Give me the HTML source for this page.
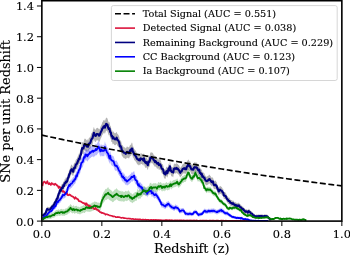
<!DOCTYPE html>
<html><head><meta charset="utf-8"><title>plot</title>
<style>
html,body{margin:0;padding:0;background:#fff;width:350px;height:255px;overflow:hidden}
svg text{font-family:"DejaVu Serif","Liberation Serif",serif;fill:#000;stroke:#000;stroke-width:0.12px;stroke-linejoin:round}
.t{font-size:11.4px}
.l{font-size:12.9px}
.g{font-size:9.69px}
</style></head><body>
<svg width="350" height="255" viewBox="0 0 350 255" style="display:block;position:absolute;left:0;top:0">
<rect width="350" height="255" fill="#fff"/>
<defs><clipPath id="c"><rect x="41.85" y="0.70" width="300.00" height="220.40"/></clipPath></defs>
<g clip-path="url(#c)" fill="none" stroke-linejoin="round">
<path d="M42.5 214.5 L43.2 213.3 L43.8 212.8 L44.5 212.5 L45.1 211.8 L45.8 210.7 L46.4 208.5 L47.1 206.5 L47.7 207.0 L48.4 207.0 L49.0 207.3 L49.7 207.1 L50.3 206.7 L51.0 205.6 L51.6 204.9 L52.3 203.7 L52.9 203.7 L53.6 202.5 L54.2 201.7 L54.9 199.4 L55.5 199.6 L56.2 197.4 L56.8 195.5 L57.5 195.2 L58.1 192.5 L58.8 190.0 L59.4 189.0 L60.1 186.3 L60.7 187.1 L61.4 184.9 L62.0 183.8 L62.7 184.1 L63.3 181.3 L64.0 181.9 L64.6 179.2 L65.3 179.0 L65.9 177.2 L66.6 177.8 L67.2 176.7 L67.9 173.8 L68.5 172.8 L69.2 170.0 L69.8 169.1 L70.5 166.7 L71.1 165.1 L71.8 164.4 L72.4 165.8 L73.1 166.9 L73.7 164.3 L74.4 162.6 L75.0 162.9 L75.7 160.0 L76.3 159.2 L77.0 158.5 L77.6 156.8 L78.3 155.4 L78.9 153.4 L79.6 153.6 L80.2 150.3 L80.9 149.1 L81.5 145.6 L82.2 142.3 L82.8 142.3 L83.5 142.7 L84.1 139.7 L84.8 138.5 L85.4 138.8 L86.1 139.6 L86.7 140.6 L87.4 139.1 L88.0 141.1 L88.7 138.4 L89.3 137.4 L90.0 137.4 L90.6 136.2 L91.3 133.4 L91.9 132.8 L92.6 131.8 L93.2 129.2 L93.9 126.7 L94.5 128.9 L95.2 129.6 L95.8 129.7 L96.5 128.0 L97.1 128.0 L97.8 127.8 L98.4 128.5 L99.1 129.5 L99.7 129.1 L100.4 126.9 L101.0 125.4 L101.7 124.2 L102.3 122.2 L103.0 121.5 L103.6 120.1 L104.3 119.8 L104.9 121.3 L105.6 119.0 L106.2 117.4 L106.9 117.9 L107.5 118.4 L108.2 121.3 L108.8 122.7 L109.5 122.1 L110.1 125.6 L110.8 126.2 L111.4 129.8 L112.1 129.8 L112.7 132.5 L113.4 131.2 L114.0 132.4 L114.7 133.2 L115.3 133.3 L116.0 132.8 L116.6 131.7 L117.3 133.8 L117.9 134.3 L118.6 135.2 L119.2 136.7 L119.9 140.7 L120.5 140.3 L121.2 141.5 L121.8 144.6 L122.5 145.2 L123.1 146.1 L123.8 147.2 L124.4 147.3 L125.1 147.5 L125.7 148.4 L126.4 147.4 L127.0 146.3 L127.7 146.9 L128.3 147.0 L129.0 147.8 L129.6 146.1 L130.3 144.4 L130.9 145.2 L131.6 142.8 L132.2 142.8 L132.9 146.4 L133.5 146.7 L134.2 149.2 L134.8 149.6 L135.5 150.4 L136.1 151.4 L136.8 153.0 L137.4 153.9 L138.1 154.1 L138.7 155.0 L139.4 154.1 L140.0 155.2 L140.7 153.1 L141.3 153.5 L142.0 153.6 L142.6 154.3 L143.3 155.3 L143.9 153.0 L144.6 155.9 L145.2 157.3 L145.9 157.9 L146.5 157.0 L147.2 158.6 L147.8 160.2 L148.5 156.6 L149.1 156.6 L149.8 155.5 L150.4 152.2 L151.1 153.0 L151.7 151.9 L152.4 152.7 L153.0 153.3 L153.7 154.9 L154.3 155.3 L155.0 156.9 L155.6 156.0 L156.3 157.0 L156.9 158.3 L157.6 158.6 L158.2 157.7 L158.9 160.1 L159.5 159.5 L160.2 159.4 L160.8 160.7 L161.5 163.0 L162.1 164.1 L162.8 164.3 L163.4 166.1 L164.1 168.9 L164.7 169.2 L165.4 169.9 L166.0 167.5 L166.7 166.4 L167.3 168.5 L168.0 166.2 L168.6 163.5 L169.3 165.6 L169.9 161.3 L170.6 164.5 L171.2 166.4 L171.9 167.2 L172.5 167.1 L173.2 167.8 L173.8 164.2 L174.5 163.5 L175.1 163.7 L175.8 163.9 L176.4 163.0 L177.1 164.1 L177.7 163.8 L178.4 165.0 L179.0 165.3 L179.7 166.9 L180.3 168.2 L181.0 166.8 L181.6 166.6 L182.3 164.7 L182.9 163.9 L183.6 163.7 L184.2 163.3 L184.9 164.3 L185.5 163.7 L186.2 164.4 L186.8 161.8 L187.5 160.8 L188.1 159.6 L188.8 160.1 L189.4 161.4 L190.1 161.2 L190.7 162.8 L191.4 164.5 L192.0 164.5 L192.7 164.8 L193.3 164.8 L194.0 162.7 L194.6 162.3 L195.3 162.4 L195.9 162.7 L196.6 162.4 L197.2 163.3 L197.9 165.0 L198.5 165.7 L199.2 164.9 L199.8 168.2 L200.5 168.2 L201.1 169.8 L201.8 169.3 L202.4 172.2 L203.1 171.8 L203.7 173.2 L204.4 173.2 L205.0 175.2 L205.7 176.1 L206.3 176.7 L207.0 176.8 L207.6 176.0 L208.3 176.0 L208.9 174.8 L209.6 174.8 L210.2 175.8 L210.9 176.6 L211.5 177.6 L212.2 178.0 L212.8 177.1 L213.5 179.6 L214.1 181.1 L214.8 180.8 L215.4 180.6 L216.1 181.4 L216.7 182.2 L217.4 184.4 L218.0 185.7 L218.7 187.8 L219.3 186.9 L220.0 185.8 L220.6 186.3 L221.3 186.8 L221.9 187.2 L222.6 188.7 L223.2 188.9 L223.9 192.0 L224.5 192.2 L225.2 192.2 L225.8 193.1 L226.5 194.6 L227.1 195.9 L227.8 196.3 L228.4 197.7 L229.1 197.6 L229.7 198.2 L230.4 199.8 L231.0 199.9 L231.7 200.0 L232.3 201.0 L233.0 200.2 L233.6 200.9 L234.3 201.9 L234.9 202.6 L235.6 202.1 L236.2 203.2 L236.9 202.5 L237.5 203.2 L238.2 203.0 L238.8 202.5 L239.5 203.6 L240.1 204.4 L240.8 204.6 L241.4 205.4 L242.1 206.7 L242.7 206.3 L243.4 206.9 L244.0 208.0 L244.7 208.5 L245.3 209.6 L246.0 209.4 L246.6 209.2 L247.3 209.5 L247.9 210.5 L248.6 208.8 L249.2 209.1 L249.9 209.9 L250.5 210.7 L251.2 211.3 L251.8 211.6 L252.5 212.3 L253.1 213.6 L253.8 214.0 L254.4 213.8 L255.1 214.8 L255.7 214.9 L256.4 214.6 L257.0 214.6 L257.7 214.7 L258.3 214.5 L259.0 214.3 L259.6 214.7 L260.3 214.3 L260.9 214.8 L261.6 214.3 L262.2 214.6 L262.9 214.6 L263.5 215.1 L264.2 214.4 L264.8 214.3 L265.5 214.5 L266.1 214.4 L266.8 214.5 L267.4 214.8 L268.1 215.8 L268.7 216.8 L269.4 217.0 L270.0 218.2 L270.7 218.1 L271.3 217.7 L271.3 220.2 L270.7 220.4 L270.0 220.4 L269.4 219.7 L268.7 219.6 L268.1 218.8 L267.4 218.1 L266.8 217.9 L266.1 217.8 L265.5 217.9 L264.8 217.7 L264.2 217.8 L263.5 218.4 L262.9 218.0 L262.2 218.0 L261.6 217.7 L260.9 218.1 L260.3 217.7 L259.6 218.1 L259.0 217.7 L258.3 217.9 L257.7 218.1 L257.0 218.0 L256.4 218.0 L255.7 218.2 L255.1 218.1 L254.4 217.4 L253.8 217.5 L253.1 217.2 L252.5 216.2 L251.8 215.7 L251.2 215.4 L250.5 214.9 L249.9 214.3 L249.2 213.6 L248.6 213.4 L247.9 214.7 L247.3 213.9 L246.6 213.7 L246.0 213.8 L245.3 214.0 L244.7 213.1 L244.0 212.7 L243.4 211.8 L242.7 211.3 L242.1 211.6 L241.4 210.5 L240.8 209.9 L240.1 209.7 L239.5 209.1 L238.8 208.1 L238.2 208.5 L237.5 208.7 L236.9 208.1 L236.2 208.7 L235.6 207.8 L234.9 208.2 L234.3 207.6 L233.6 206.7 L233.0 206.2 L232.3 206.8 L231.7 206.0 L231.0 205.9 L230.4 205.8 L229.7 204.4 L229.1 203.9 L228.4 203.9 L227.8 202.8 L227.1 202.4 L226.5 201.3 L225.8 199.9 L225.2 199.1 L224.5 199.1 L223.9 199.0 L223.2 196.2 L222.6 196.0 L221.9 194.7 L221.3 194.3 L220.6 193.9 L220.0 193.5 L219.3 194.5 L218.7 195.3 L218.0 193.4 L217.4 192.2 L216.7 190.2 L216.1 189.5 L215.4 188.8 L214.8 189.0 L214.1 189.3 L213.5 187.9 L212.8 185.6 L212.2 186.4 L211.5 186.1 L210.9 185.2 L210.2 184.5 L209.6 183.5 L208.9 183.5 L208.3 184.6 L207.6 184.7 L207.0 185.3 L206.3 185.2 L205.7 184.8 L205.0 183.9 L204.4 182.1 L203.7 182.1 L203.1 180.8 L202.4 181.2 L201.8 178.5 L201.1 179.0 L200.5 177.5 L199.8 177.5 L199.2 174.5 L198.5 175.2 L197.9 174.6 L197.2 173.1 L196.6 172.3 L195.9 172.5 L195.3 172.2 L194.6 172.1 L194.0 172.5 L193.3 174.4 L192.7 174.5 L192.0 174.1 L191.4 174.1 L190.7 172.6 L190.1 171.1 L189.4 171.3 L188.8 170.2 L188.1 169.6 L187.5 170.8 L186.8 171.7 L186.2 174.0 L185.5 173.5 L184.9 174.0 L184.2 173.1 L183.6 173.4 L182.9 173.6 L182.3 174.4 L181.6 176.1 L181.0 176.2 L180.3 177.5 L179.7 176.4 L179.0 174.9 L178.4 174.6 L177.7 173.5 L177.1 173.8 L176.4 172.8 L175.8 173.6 L175.1 173.4 L174.5 173.3 L173.8 173.9 L173.2 177.2 L172.5 176.5 L171.9 176.6 L171.2 175.9 L170.6 174.1 L169.9 171.2 L169.3 175.2 L168.6 173.2 L168.0 175.7 L167.3 177.8 L166.7 175.9 L166.0 176.9 L165.4 179.1 L164.7 178.4 L164.1 178.2 L163.4 175.6 L162.8 174.0 L162.1 173.8 L161.5 172.8 L160.8 170.6 L160.2 169.5 L159.5 169.6 L158.9 170.1 L158.2 167.9 L157.6 168.8 L156.9 168.5 L156.3 167.3 L155.6 166.3 L155.0 167.2 L154.3 165.7 L153.7 165.3 L153.0 163.9 L152.4 163.3 L151.7 162.5 L151.1 163.6 L150.4 162.8 L149.8 165.9 L149.1 166.9 L148.5 166.9 L147.8 170.2 L147.2 168.8 L146.5 167.2 L145.9 168.1 L145.2 167.5 L144.6 166.2 L143.9 163.6 L143.3 165.7 L142.6 164.8 L142.0 164.1 L141.3 164.1 L140.7 163.7 L140.0 165.6 L139.4 164.6 L138.7 165.4 L138.1 164.6 L137.4 164.4 L136.8 163.6 L136.1 162.1 L135.5 161.2 L134.8 160.4 L134.2 160.0 L133.5 157.8 L132.9 157.5 L132.2 154.2 L131.6 154.2 L130.9 156.4 L130.3 155.6 L129.6 157.2 L129.0 158.8 L128.3 158.0 L127.7 157.9 L127.0 157.4 L126.4 158.4 L125.7 159.3 L125.1 158.5 L124.4 158.3 L123.8 158.2 L123.1 157.2 L122.5 156.4 L121.8 155.8 L121.2 153.0 L120.5 151.8 L119.9 152.2 L119.2 148.4 L118.6 147.1 L117.9 146.2 L117.3 145.7 L116.6 143.8 L116.0 144.8 L115.3 145.2 L114.7 145.2 L114.0 144.4 L113.4 143.4 L112.7 144.5 L112.1 142.0 L111.4 142.0 L110.8 138.7 L110.1 138.1 L109.5 134.8 L108.8 135.4 L108.2 134.0 L107.5 131.4 L106.9 130.9 L106.2 130.4 L105.6 131.9 L104.9 134.1 L104.3 132.6 L103.6 132.9 L103.0 134.2 L102.3 134.9 L101.7 136.8 L101.0 137.9 L100.4 139.3 L99.7 141.4 L99.1 141.8 L98.4 140.8 L97.8 140.2 L97.1 140.4 L96.5 140.3 L95.8 142.0 L95.2 141.8 L94.5 141.2 L93.9 139.1 L93.2 141.4 L92.6 143.9 L91.9 144.8 L91.3 145.4 L90.6 148.0 L90.0 149.1 L89.3 149.1 L88.7 150.0 L88.0 152.5 L87.4 150.7 L86.7 152.1 L86.1 151.2 L85.4 150.4 L84.8 150.1 L84.1 151.2 L83.5 154.1 L82.8 153.7 L82.2 153.7 L81.5 156.7 L80.9 160.0 L80.2 161.1 L79.6 164.1 L78.9 164.0 L78.3 165.8 L77.6 167.1 L77.0 168.7 L76.3 169.3 L75.7 170.0 L75.0 172.7 L74.4 172.4 L73.7 174.0 L73.1 176.4 L72.4 175.3 L71.8 174.0 L71.1 174.7 L70.5 176.1 L69.8 178.3 L69.2 179.2 L68.5 181.7 L67.9 182.6 L67.2 185.2 L66.6 186.3 L65.9 185.8 L65.3 187.3 L64.6 187.5 L64.0 190.0 L63.3 189.5 L62.7 191.9 L62.0 191.7 L61.4 192.7 L60.7 194.6 L60.1 193.9 L59.4 196.3 L58.8 197.2 L58.1 199.4 L57.5 201.8 L56.8 202.1 L56.2 203.7 L55.5 205.6 L54.9 205.4 L54.2 207.4 L53.6 208.1 L52.9 209.1 L52.3 209.1 L51.6 210.2 L51.0 210.8 L50.3 211.6 L49.7 212.0 L49.0 212.1 L48.4 211.9 L47.7 211.9 L47.1 211.5 L46.4 213.1 L45.8 214.9 L45.1 215.8 L44.5 216.4 L43.8 216.6 L43.2 216.9 L42.5 217.9Z" fill="#808080" fill-opacity="0.6"/>
<path d="M42.5 216.4 L43.2 216.3 L43.8 215.7 L44.5 214.7 L45.1 215.1 L45.8 214.7 L46.4 213.7 L47.1 212.9 L47.7 211.9 L48.4 210.7 L49.0 210.4 L49.7 209.6 L50.3 209.1 L51.0 208.9 L51.6 208.6 L52.3 207.3 L52.9 205.7 L53.6 205.9 L54.2 204.0 L54.9 203.8 L55.5 203.6 L56.2 201.6 L56.8 199.9 L57.5 198.6 L58.1 199.0 L58.8 197.5 L59.4 196.9 L60.1 196.5 L60.7 195.2 L61.4 194.4 L62.0 193.4 L62.7 191.4 L63.3 191.6 L64.0 191.8 L64.6 191.0 L65.3 190.6 L65.9 189.3 L66.6 188.6 L67.2 187.1 L67.9 183.6 L68.5 182.7 L69.2 180.9 L69.8 181.7 L70.5 180.2 L71.1 179.6 L71.8 179.4 L72.4 178.4 L73.1 176.9 L73.7 177.2 L74.4 175.2 L75.0 175.1 L75.7 173.6 L76.3 170.9 L77.0 171.7 L77.6 168.4 L78.3 167.8 L78.9 165.3 L79.6 164.7 L80.2 163.3 L80.9 159.8 L81.5 157.5 L82.2 157.2 L82.8 156.7 L83.5 153.8 L84.1 151.6 L84.8 152.3 L85.4 148.9 L86.1 150.1 L86.7 149.1 L87.4 151.0 L88.0 149.9 L88.7 148.5 L89.3 148.4 L90.0 146.7 L90.6 147.3 L91.3 146.0 L91.9 145.8 L92.6 145.2 L93.2 146.4 L93.9 145.1 L94.5 145.3 L95.2 144.9 L95.8 143.4 L96.5 144.4 L97.1 143.3 L97.8 142.2 L98.4 140.8 L99.1 141.7 L99.7 143.9 L100.4 145.9 L101.0 143.6 L101.7 145.3 L102.3 144.7 L103.0 145.4 L103.6 144.8 L104.3 145.0 L104.9 141.3 L105.6 144.0 L106.2 144.6 L106.9 146.7 L107.5 147.4 L108.2 148.5 L108.8 150.9 L109.5 153.3 L110.1 150.2 L110.8 153.5 L111.4 154.9 L112.1 155.3 L112.7 155.9 L113.4 156.0 L114.0 157.4 L114.7 159.8 L115.3 160.9 L116.0 160.7 L116.6 160.6 L117.3 162.1 L117.9 163.1 L118.6 165.1 L119.2 166.1 L119.9 166.8 L120.5 168.8 L121.2 169.1 L121.8 171.6 L122.5 172.8 L123.1 172.0 L123.8 173.9 L124.4 173.5 L125.1 175.8 L125.7 176.1 L126.4 175.8 L127.0 177.2 L127.7 176.5 L128.3 176.1 L129.0 175.5 L129.6 175.1 L130.3 174.3 L130.9 173.8 L131.6 172.2 L132.2 172.6 L132.9 172.5 L133.5 171.5 L134.2 171.1 L134.8 173.9 L135.5 175.6 L136.1 176.0 L136.8 176.6 L137.4 179.0 L138.1 181.3 L138.7 179.9 L139.4 182.5 L140.0 182.3 L140.7 182.4 L141.3 183.9 L142.0 183.5 L142.6 185.6 L143.3 187.2 L143.9 187.1 L144.6 187.2 L145.2 187.3 L145.9 188.2 L146.5 188.2 L147.2 190.3 L147.8 188.8 L148.5 188.0 L149.1 187.5 L149.8 187.3 L150.4 187.4 L151.1 187.1 L151.7 189.6 L152.4 188.8 L153.0 189.5 L153.7 190.6 L154.3 191.6 L155.0 191.6 L155.6 190.5 L156.3 191.6 L156.9 192.2 L157.6 193.5 L158.2 194.4 L158.9 195.8 L159.5 196.7 L160.2 198.5 L160.8 199.2 L161.5 201.7 L162.1 201.8 L162.8 201.9 L163.4 202.5 L164.1 202.8 L164.7 203.3 L165.4 203.9 L166.0 202.4 L166.7 201.7 L167.3 202.0 L168.0 200.7 L168.6 200.9 L169.3 202.1 L169.9 202.6 L170.6 203.8 L171.2 203.7 L171.9 204.8 L172.5 204.9 L173.2 205.1 L173.8 205.9 L174.5 205.9 L175.1 204.5 L175.8 204.5 L176.4 205.1 L177.1 205.4 L177.7 205.4 L178.4 206.4 L179.0 206.9 L179.7 209.3 L180.3 208.6 L181.0 208.6 L181.6 208.2 L182.3 208.1 L182.9 207.9 L183.6 208.0 L184.2 209.4 L184.9 210.3 L185.5 211.7 L186.2 211.6 L186.8 211.7 L187.5 212.1 L188.1 212.3 L188.8 211.9 L189.4 211.6 L190.1 211.8 L190.7 211.6 L191.4 212.4 L192.0 212.0 L192.7 212.0 L193.3 211.7 L194.0 210.0 L194.6 209.9 L195.3 209.8 L195.9 209.7 L196.6 210.2 L197.2 211.6 L197.9 212.1 L198.5 213.1 L199.2 212.8 L199.8 212.4 L200.5 212.5 L201.1 212.1 L201.8 212.2 L202.4 211.1 L203.1 210.6 L203.7 209.5 L204.4 208.8 L205.0 208.4 L205.7 209.5 L206.3 209.3 L207.0 209.7 L207.6 209.3 L208.3 208.4 L208.9 209.0 L209.6 208.7 L210.2 209.2 L210.9 208.4 L211.5 208.8 L212.2 208.3 L212.8 208.9 L213.5 208.3 L214.1 208.4 L214.8 209.1 L215.4 209.3 L216.1 209.5 L216.7 210.0 L217.4 210.0 L218.0 209.0 L218.7 209.2 L219.3 208.9 L220.0 208.1 L220.6 208.4 L221.3 207.6 L221.9 208.9 L222.6 208.6 L223.2 209.1 L223.9 210.1 L224.5 210.3 L225.2 211.3 L225.8 211.0 L226.5 211.4 L227.1 211.1 L227.8 211.5 L228.4 212.4 L229.1 212.7 L229.7 213.6 L230.4 213.8 L231.0 214.3 L231.7 214.9 L232.3 215.3 L233.0 215.4 L233.6 215.5 L234.3 215.9 L234.9 215.9 L235.6 216.2 L236.2 216.7 L236.9 216.3 L237.5 216.4 L238.2 216.8 L238.8 216.5 L239.5 216.8 L240.1 216.6 L240.8 217.4 L241.4 216.6 L242.1 217.1 L242.7 217.3 L243.4 218.0 L244.0 217.9 L244.7 217.9 L245.3 217.8 L246.0 218.3 L246.6 218.4 L247.3 218.4 L247.9 218.4 L248.6 218.7 L249.2 219.3 L249.9 219.7 L250.5 219.8 L251.2 219.8 L251.8 219.8 L252.5 220.0 L253.1 220.0 L253.8 220.1 L254.4 220.1 L255.1 220.0 L255.7 220.0 L256.4 220.2 L257.0 220.2 L257.7 220.1 L258.3 219.9 L259.0 220.2 L259.6 220.3 L260.3 220.3 L260.9 220.2 L261.6 220.2 L262.2 220.2 L262.9 220.4 L263.5 220.2 L264.2 220.3 L264.8 220.3 L265.5 220.4 L266.1 220.3 L266.8 220.4 L267.4 220.4 L268.1 220.4 L268.1 221.0 L267.4 221.0 L266.8 221.0 L266.1 221.0 L265.5 221.0 L264.8 221.0 L264.2 221.0 L263.5 221.0 L262.9 221.0 L262.2 221.0 L261.6 221.0 L260.9 221.0 L260.3 221.0 L259.6 221.0 L259.0 221.0 L258.3 221.0 L257.7 221.0 L257.0 221.0 L256.4 221.0 L255.7 221.0 L255.1 221.0 L254.4 221.0 L253.8 221.0 L253.1 221.0 L252.5 221.0 L251.8 221.0 L251.2 221.0 L250.5 221.0 L249.9 221.0 L249.2 221.0 L248.6 220.8 L247.9 220.6 L247.3 220.6 L246.6 220.6 L246.0 220.5 L245.3 220.2 L244.7 220.3 L244.0 220.3 L243.4 220.4 L242.7 219.9 L242.1 219.7 L241.4 219.4 L240.8 219.9 L240.1 219.4 L239.5 219.5 L238.8 219.3 L238.2 219.5 L237.5 219.3 L236.9 219.2 L236.2 219.5 L235.6 219.1 L234.9 218.9 L234.3 218.9 L233.6 218.6 L233.0 218.5 L232.3 218.5 L231.7 218.2 L231.0 217.8 L230.4 217.3 L229.7 217.2 L229.1 216.5 L228.4 216.3 L227.8 215.6 L227.1 215.2 L226.5 215.4 L225.8 215.1 L225.2 215.4 L224.5 214.6 L223.9 214.4 L223.2 213.7 L222.6 213.2 L221.9 213.5 L221.3 212.4 L220.6 213.1 L220.0 212.8 L219.3 213.5 L218.7 213.7 L218.0 213.5 L217.4 214.4 L216.7 214.4 L216.1 214.0 L215.4 213.8 L214.8 213.6 L214.1 213.1 L213.5 213.0 L212.8 213.5 L212.2 212.9 L211.5 213.4 L210.9 213.1 L210.2 213.7 L209.6 213.3 L208.9 213.6 L208.3 213.1 L207.6 213.8 L207.0 214.1 L206.3 213.8 L205.7 214.0 L205.0 213.1 L204.4 213.3 L203.7 213.9 L203.1 214.8 L202.4 215.3 L201.8 216.1 L201.1 216.0 L200.5 216.3 L199.8 216.2 L199.2 216.6 L198.5 216.9 L197.9 216.0 L197.2 215.7 L196.6 214.5 L195.9 214.1 L195.3 214.2 L194.6 214.3 L194.0 214.4 L193.3 215.7 L192.7 216.0 L192.0 215.9 L191.4 216.3 L190.7 215.7 L190.1 215.8 L189.4 215.7 L188.8 215.9 L188.1 216.2 L187.5 216.0 L186.8 215.7 L186.2 215.6 L185.5 215.8 L184.9 214.6 L184.2 213.9 L183.6 212.7 L182.9 212.7 L182.3 212.8 L181.6 212.9 L181.0 213.2 L180.3 213.2 L179.7 213.8 L179.0 211.8 L178.4 211.4 L177.7 210.6 L177.1 210.6 L176.4 210.3 L175.8 209.8 L175.1 209.8 L174.5 211.0 L173.8 211.0 L173.2 210.3 L172.5 210.1 L171.9 210.1 L171.2 209.1 L170.6 209.2 L169.9 208.2 L169.3 207.7 L168.6 206.7 L168.0 206.6 L167.3 207.7 L166.7 207.4 L166.0 208.0 L165.4 209.3 L164.7 208.8 L164.1 208.4 L163.4 208.1 L162.8 207.6 L162.1 207.5 L161.5 207.4 L160.8 205.3 L160.2 204.7 L159.5 203.1 L158.9 202.3 L158.2 201.1 L157.6 200.3 L156.9 199.2 L156.3 198.6 L155.6 197.7 L155.0 198.6 L154.3 198.6 L153.7 197.7 L153.0 196.8 L152.4 196.2 L151.7 196.9 L151.1 194.6 L150.4 194.9 L149.8 194.8 L149.1 195.0 L148.5 195.4 L147.8 196.1 L147.2 197.5 L146.5 195.6 L145.9 195.6 L145.2 194.8 L144.6 194.7 L143.9 194.6 L143.3 194.7 L142.6 193.3 L142.0 191.4 L141.3 191.8 L140.7 190.4 L140.0 190.4 L139.4 190.5 L138.7 188.2 L138.1 189.4 L137.4 187.4 L136.8 185.1 L136.1 184.6 L135.5 184.3 L134.8 182.8 L134.2 180.2 L133.5 180.6 L132.9 181.5 L132.2 181.6 L131.6 181.2 L130.9 182.6 L130.3 183.1 L129.6 183.8 L129.0 184.2 L128.3 184.7 L127.7 185.0 L127.0 185.7 L126.4 184.5 L125.7 184.8 L125.1 184.4 L124.4 182.4 L123.8 182.7 L123.1 181.0 L122.5 181.8 L121.8 180.6 L121.2 178.4 L120.5 178.1 L119.9 176.3 L119.2 175.6 L118.6 174.7 L117.9 172.8 L117.3 171.9 L116.6 170.6 L116.0 170.7 L115.3 170.8 L114.7 169.9 L114.0 167.6 L113.4 166.3 L112.7 166.2 L112.1 165.7 L111.4 165.3 L110.8 164.0 L110.1 161.0 L109.5 163.9 L108.8 161.6 L108.2 159.4 L107.5 158.4 L106.9 157.8 L106.2 155.8 L105.6 155.3 L104.9 152.7 L104.3 156.2 L103.6 156.0 L103.0 156.6 L102.3 155.9 L101.7 156.4 L101.0 154.9 L100.4 157.0 L99.7 155.1 L99.1 153.1 L98.4 152.3 L97.8 153.6 L97.1 154.6 L96.5 155.6 L95.8 154.7 L95.2 156.1 L94.5 156.5 L93.9 156.2 L93.2 157.4 L92.6 156.3 L91.9 156.9 L91.3 157.1 L90.6 158.3 L90.0 157.7 L89.3 159.3 L88.7 159.4 L88.0 160.7 L87.4 161.7 L86.7 160.0 L86.1 160.9 L85.4 159.8 L84.8 162.9 L84.1 162.3 L83.5 164.3 L82.8 167.0 L82.2 167.4 L81.5 167.7 L80.9 169.9 L80.2 173.1 L79.6 174.4 L78.9 174.8 L78.3 177.2 L77.6 177.8 L77.0 180.7 L76.3 180.0 L75.7 182.4 L75.0 183.9 L74.4 183.9 L73.7 185.7 L73.1 185.4 L72.4 186.8 L71.8 187.7 L71.1 187.9 L70.5 188.4 L69.8 189.8 L69.2 189.0 L68.5 190.7 L67.9 191.5 L67.2 194.6 L66.6 195.9 L65.9 196.6 L65.3 197.7 L64.6 198.1 L64.0 198.8 L63.3 198.6 L62.7 198.5 L62.0 200.2 L61.4 201.1 L60.7 201.8 L60.1 202.9 L59.4 203.3 L58.8 203.8 L58.1 205.1 L57.5 204.8 L56.8 205.9 L56.2 207.4 L55.5 209.1 L54.9 209.2 L54.2 209.4 L53.6 211.0 L52.9 210.8 L52.3 212.2 L51.6 213.2 L51.0 213.5 L50.3 213.6 L49.7 214.1 L49.0 214.7 L48.4 214.9 L47.7 215.9 L47.1 216.7 L46.4 217.3 L45.8 218.1 L45.1 218.3 L44.5 218.0 L43.8 218.8 L43.2 219.2 L42.5 219.3Z" fill="#0000ff" fill-opacity="0.28"/>
<path d="M42.5 184.6 L43.2 181.0 L43.9 180.5 L44.6 180.3 L45.3 181.1 L46.0 182.1 L46.7 181.1 L47.4 179.7 L48.1 182.3 L48.8 182.8 L49.5 181.7 L50.2 182.7 L50.9 183.5 L51.6 181.7 L52.3 182.2 L53.0 182.7 L53.7 182.8 L54.4 183.5 L55.1 182.4 L55.8 182.8 L56.5 183.7 L57.2 184.2 L57.9 184.7 L58.6 186.6 L59.3 185.2 L60.0 186.5 L60.7 186.1 L61.4 188.4 L62.1 189.9 L62.8 190.5 L63.5 189.7 L64.2 190.5 L64.9 192.0 L65.6 191.6 L66.3 192.8 L67.0 191.9 L67.7 193.9 L68.4 193.9 L69.1 193.8 L69.8 193.3 L70.5 194.1 L71.2 194.6 L71.9 195.2 L72.6 195.4 L73.3 195.8 L74.0 196.6 L74.7 197.8 L75.4 196.1 L76.1 197.0 L76.8 197.4 L77.5 198.4 L78.2 198.3 L78.9 200.1 L79.6 200.2 L80.3 200.4 L81.0 200.5 L81.7 201.3 L82.4 201.6 L83.1 202.1 L83.8 201.9 L84.5 203.0 L85.2 202.3 L85.9 204.2 L86.6 202.4 L87.3 204.0 L88.0 204.1 L88.7 205.5 L89.4 204.6 L90.1 206.6 L90.8 205.2 L91.5 207.3 L92.2 206.8 L92.9 206.8 L93.6 207.3 L94.3 208.4 L95.0 208.1 L95.7 206.8 L96.4 208.9 L97.1 209.0 L97.8 208.8 L98.5 210.4 L99.2 210.2 L99.9 211.3 L100.6 211.8 L101.3 211.7 L102.0 212.5 L102.7 212.1 L103.4 212.8 L104.1 212.8 L104.8 213.2 L105.5 214.2 L106.2 213.8 L106.9 213.6 L107.6 214.1 L108.3 214.1 L109.0 214.6 L109.7 214.9 L110.4 215.1 L111.1 215.2 L111.8 215.2 L112.5 215.7 L113.2 216.1 L113.9 215.8 L114.6 216.1 L115.3 216.3 L116.0 216.8 L116.7 216.9 L117.4 216.5 L118.1 216.8 L118.8 216.5 L119.5 216.8 L120.2 217.1 L120.9 217.4 L121.6 217.5 L122.3 217.3 L123.0 217.1 L123.7 217.7 L124.4 217.6 L125.1 217.8 L125.8 217.9 L126.5 218.1 L127.2 218.1 L127.9 218.3 L128.6 218.0 L129.3 218.4 L130.0 218.2 L130.7 218.4 L131.4 218.8 L132.1 218.6 L132.8 218.3 L133.5 218.9 L134.2 218.9 L134.9 219.0 L135.6 218.8 L136.3 218.9 L137.0 218.9 L137.7 218.8 L138.4 219.3 L139.1 219.0 L139.8 219.1 L140.5 219.1 L141.2 219.6 L141.9 219.4 L142.6 219.2 L143.3 219.3 L144.0 219.5 L144.7 219.5 L145.4 219.2 L146.1 219.6 L146.8 219.5 L147.5 219.4 L148.2 219.5 L148.9 219.7 L149.6 219.9 L150.3 219.7 L151.0 219.8 L151.7 219.6 L152.4 219.8 L153.1 219.9 L153.8 219.6 L154.5 219.7 L155.2 219.9 L155.9 219.6 L156.6 219.8 L157.3 219.9 L158.0 219.6 L158.7 219.8 L159.4 219.9 L160.1 220.0 L160.8 219.7 L161.5 220.1 L162.2 220.0 L162.9 220.1 L163.6 220.1 L164.3 220.0 L165.0 220.1 L165.7 219.8 L166.4 219.8 L167.1 219.9 L167.8 220.0 L168.5 220.2 L169.2 219.9 L169.9 220.1 L170.6 219.9 L171.3 219.9 L172.0 220.3 L172.7 220.1 L173.4 220.3 L174.1 220.3 L174.8 220.0 L175.5 219.9 L176.2 220.4 L176.9 220.1 L177.6 220.0 L178.3 220.3 L179.0 220.2 L179.7 220.1 L180.4 220.2 L181.1 220.2 L181.8 220.2 L182.5 220.3 L183.2 220.2 L183.9 220.2 L184.6 220.3 L185.3 220.3 L186.0 220.4 L186.7 220.3 L187.4 220.3 L188.1 220.2 L188.8 220.5 L189.5 220.2 L190.2 220.3 L190.9 220.2 L191.6 220.4 L192.3 220.4 L193.0 220.2 L193.7 220.3 L194.4 220.2 L195.1 220.5 L195.8 220.3 L196.5 220.2 L197.2 220.3 L197.9 220.5 L198.6 220.5 L199.3 220.5 L200.0 220.3 L200.7 220.4 L201.4 220.6 L202.1 220.3 L202.8 220.4 L203.5 220.3 L204.2 220.3 L204.9 220.6 L205.6 220.5 L206.3 220.5 L207.0 220.5 L207.7 220.5 L208.4 220.6 L209.1 220.5 L209.8 220.4 L210.5 220.4 L211.2 220.6 L211.9 220.4 L212.6 220.3 L213.3 220.5 L214.0 220.5 L214.7 220.6 L215.4 220.6 L216.1 220.4 L216.8 220.4 L217.5 220.5 L218.2 220.4 L218.9 220.5 L219.6 220.6 L220.3 220.5 L221.0 220.4 L221.7 220.4 L222.4 220.7 L223.1 220.4 L223.8 220.6 L224.5 220.6 L225.2 220.5 L225.9 220.5 L226.6 220.6 L227.3 220.5 L228.0 220.6 L228.7 220.6 L229.4 220.6 L230.1 220.6 L230.8 220.6 L231.5 220.6 L232.2 220.7 L232.9 220.6 L233.6 220.6 L234.3 220.7 L235.0 220.7 L235.7 220.7 L236.4 220.6 L237.1 220.8 L237.8 220.8 L238.5 220.8 L239.2 220.8 L239.9 220.7 L240.6 220.9 L241.3 220.8 L242.0 221.0 L242.7 220.9 L243.4 220.9 L244.1 220.8 L244.8 220.9 L245.5 220.9 L246.2 221.0 L246.9 221.0 L247.6 221.0 L248.3 220.9 L249.0 221.1 L249.7 221.0 L250.4 221.1 L251.1 221.1 L251.8 221.1 L252.5 221.1 L253.2 221.1 L253.9 221.1 L254.6 221.1 L255.3 221.1 L256.0 221.1 L256.7 221.1 L257.4 221.1 L258.1 221.1 L258.8 221.1 L259.5 221.1 L260.2 221.1 L260.9 221.1 L261.6 221.1 L261.6 221.0 L260.9 221.0 L260.2 221.0 L259.5 221.0 L258.8 221.0 L258.1 221.0 L257.4 221.0 L256.7 221.0 L256.0 221.0 L255.3 221.0 L254.6 221.0 L253.9 221.0 L253.2 221.0 L252.5 221.0 L251.8 221.0 L251.1 221.0 L250.4 221.0 L249.7 221.0 L249.0 221.0 L248.3 221.0 L247.6 221.0 L246.9 221.0 L246.2 221.0 L245.5 221.0 L244.8 221.0 L244.1 221.0 L243.4 221.0 L242.7 221.0 L242.0 221.0 L241.3 221.0 L240.6 221.0 L239.9 221.0 L239.2 221.0 L238.5 221.0 L237.8 221.0 L237.1 221.0 L236.4 220.9 L235.7 220.9 L235.0 220.9 L234.3 220.9 L233.6 220.8 L232.9 220.9 L232.2 220.9 L231.5 220.9 L230.8 220.9 L230.1 220.9 L229.4 220.9 L228.7 220.9 L228.0 220.9 L227.3 220.8 L226.6 220.9 L225.9 220.8 L225.2 220.8 L224.5 220.9 L223.8 220.9 L223.1 220.8 L222.4 220.9 L221.7 220.7 L221.0 220.7 L220.3 220.8 L219.6 220.8 L218.9 220.8 L218.2 220.7 L217.5 220.8 L216.8 220.7 L216.1 220.7 L215.4 220.9 L214.7 220.9 L214.0 220.8 L213.3 220.8 L212.6 220.7 L211.9 220.7 L211.2 220.9 L210.5 220.7 L209.8 220.7 L209.1 220.8 L208.4 220.9 L207.7 220.8 L207.0 220.8 L206.3 220.8 L205.6 220.8 L204.9 220.8 L204.2 220.7 L203.5 220.7 L202.8 220.7 L202.1 220.7 L201.4 220.9 L200.7 220.7 L200.0 220.7 L199.3 220.8 L198.6 220.8 L197.9 220.8 L197.2 220.7 L196.5 220.6 L195.8 220.7 L195.1 220.8 L194.4 220.6 L193.7 220.7 L193.0 220.6 L192.3 220.7 L191.6 220.7 L190.9 220.6 L190.2 220.7 L189.5 220.6 L188.8 220.8 L188.1 220.6 L187.4 220.6 L186.7 220.6 L186.0 220.7 L185.3 220.7 L184.6 220.7 L183.9 220.6 L183.2 220.6 L182.5 220.7 L181.8 220.6 L181.1 220.6 L180.4 220.6 L179.7 220.5 L179.0 220.6 L178.3 220.6 L177.6 220.5 L176.9 220.5 L176.2 220.8 L175.5 220.4 L174.8 220.5 L174.1 220.7 L173.4 220.7 L172.7 220.5 L172.0 220.7 L171.3 220.4 L170.6 220.4 L169.9 220.5 L169.2 220.3 L168.5 220.6 L167.8 220.4 L167.1 220.4 L166.4 220.3 L165.7 220.3 L165.0 220.5 L164.3 220.5 L163.6 220.5 L162.9 220.5 L162.2 220.4 L161.5 220.5 L160.8 220.2 L160.1 220.4 L159.4 220.3 L158.7 220.3 L158.0 220.1 L157.3 220.4 L156.6 220.3 L155.9 220.1 L155.2 220.4 L154.5 220.2 L153.8 220.1 L153.1 220.3 L152.4 220.3 L151.7 220.1 L151.0 220.2 L150.3 220.2 L149.6 220.3 L148.9 220.2 L148.2 220.0 L147.5 219.9 L146.8 220.0 L146.1 220.1 L145.4 219.7 L144.7 220.1 L144.0 220.0 L143.3 219.9 L142.6 219.8 L141.9 220.0 L141.2 220.1 L140.5 219.7 L139.8 219.7 L139.1 219.6 L138.4 219.9 L137.7 219.5 L137.0 219.5 L136.3 219.5 L135.6 219.5 L134.9 219.6 L134.2 219.5 L133.5 219.5 L132.8 219.0 L132.1 219.2 L131.4 219.4 L130.7 219.1 L130.0 218.9 L129.3 219.1 L128.6 218.8 L127.9 219.0 L127.2 218.9 L126.5 218.8 L125.8 218.6 L125.1 218.6 L124.4 218.4 L123.7 218.5 L123.0 218.0 L122.3 218.1 L121.6 218.3 L120.9 218.2 L120.2 218.0 L119.5 217.6 L118.8 217.4 L118.1 217.7 L117.4 217.4 L116.7 217.7 L116.0 217.7 L115.3 217.3 L114.6 217.1 L113.9 216.8 L113.2 217.0 L112.5 216.7 L111.8 216.3 L111.1 216.3 L110.4 216.1 L109.7 215.9 L109.0 215.7 L108.3 215.3 L107.6 215.3 L106.9 214.8 L106.2 214.9 L105.5 215.3 L104.8 214.4 L104.1 214.0 L103.4 214.1 L102.7 213.4 L102.0 213.8 L101.3 213.1 L100.6 213.1 L99.9 212.7 L99.2 211.6 L98.5 211.8 L97.8 210.3 L97.1 210.5 L96.4 210.4 L95.7 208.5 L95.0 209.6 L94.3 210.0 L93.6 209.0 L92.9 208.5 L92.2 208.4 L91.5 208.9 L90.8 207.0 L90.1 208.3 L89.4 206.4 L88.7 207.2 L88.0 205.9 L87.3 205.9 L86.6 204.3 L85.9 206.0 L85.2 204.2 L84.5 204.9 L83.8 203.8 L83.1 204.0 L82.4 203.6 L81.7 203.3 L81.0 202.5 L80.3 202.4 L79.6 202.2 L78.9 202.1 L78.2 200.4 L77.5 200.5 L76.8 199.6 L76.1 199.2 L75.4 198.4 L74.7 199.9 L74.0 198.7 L73.3 198.0 L72.6 197.7 L71.9 197.4 L71.2 196.9 L70.5 196.4 L69.8 195.7 L69.1 196.2 L68.4 196.2 L67.7 196.2 L67.0 194.3 L66.3 195.1 L65.6 194.0 L64.9 194.4 L64.2 192.9 L63.5 192.2 L62.8 192.9 L62.1 192.3 L61.4 190.9 L60.7 188.8 L60.0 189.1 L59.3 187.9 L58.6 189.2 L57.9 187.3 L57.2 186.9 L56.5 186.4 L55.8 185.6 L55.1 185.1 L54.4 186.2 L53.7 185.6 L53.0 185.5 L52.3 185.0 L51.6 184.5 L50.9 186.3 L50.2 185.5 L49.5 184.5 L48.8 185.5 L48.1 185.0 L47.4 182.6 L46.7 183.9 L46.0 184.8 L45.3 183.9 L44.6 183.1 L43.9 183.3 L43.2 183.8 L42.5 187.3Z" fill="#dc143c" fill-opacity="0.3"/>
<path d="M42.5 218.1 L43.2 217.5 L43.8 216.2 L44.5 216.3 L45.1 215.6 L45.8 214.9 L46.4 215.0 L47.1 214.6 L47.7 214.8 L48.4 214.1 L49.0 213.8 L49.7 214.1 L50.3 214.1 L51.0 213.4 L51.6 213.3 L52.3 212.7 L52.9 212.2 L53.6 212.3 L54.2 212.4 L54.9 210.8 L55.5 210.7 L56.2 209.8 L56.8 210.1 L57.5 210.0 L58.1 209.2 L58.8 209.4 L59.4 210.0 L60.1 209.4 L60.7 209.0 L61.4 208.9 L62.0 208.7 L62.7 209.7 L63.3 209.0 L64.0 209.6 L64.6 209.5 L65.3 208.7 L65.9 208.3 L66.6 208.4 L67.2 207.8 L67.9 207.4 L68.5 206.0 L69.2 206.3 L69.8 205.0 L70.5 203.9 L71.1 204.8 L71.8 205.5 L72.4 206.4 L73.1 205.5 L73.7 205.2 L74.4 206.8 L75.0 206.1 L75.7 206.0 L76.3 205.8 L77.0 205.9 L77.6 207.0 L78.3 206.5 L78.9 207.0 L79.6 207.2 L80.2 207.5 L80.9 206.1 L81.5 206.4 L82.2 206.0 L82.8 205.7 L83.5 205.0 L84.1 205.4 L84.8 205.4 L85.4 204.2 L86.1 203.4 L86.7 203.2 L87.4 203.9 L88.0 203.7 L88.7 204.0 L89.3 204.2 L90.0 203.4 L90.6 204.0 L91.3 203.4 L91.9 202.8 L92.6 202.6 L93.2 202.5 L93.9 201.9 L94.5 201.2 L95.2 202.0 L95.8 201.6 L96.5 201.9 L97.1 202.0 L97.8 203.0 L98.4 202.6 L99.1 202.8 L99.7 202.9 L100.4 202.3 L101.0 199.9 L101.7 196.8 L102.3 194.9 L103.0 193.5 L103.6 192.0 L104.3 191.3 L104.9 189.9 L105.6 188.7 L106.2 189.2 L106.9 188.4 L107.5 187.8 L108.2 187.1 L108.8 188.6 L109.5 188.9 L110.1 189.5 L110.8 189.9 L111.4 190.4 L112.1 191.2 L112.7 191.9 L113.4 191.3 L114.0 190.5 L114.7 189.6 L115.3 189.4 L116.0 189.0 L116.6 188.0 L117.3 189.3 L117.9 189.7 L118.6 190.4 L119.2 190.6 L119.9 190.9 L120.5 190.7 L121.2 192.1 L121.8 190.6 L122.5 191.4 L123.1 191.3 L123.8 192.3 L124.4 191.9 L125.1 191.2 L125.7 190.8 L126.4 191.2 L127.0 191.7 L127.7 191.0 L128.3 190.3 L129.0 190.8 L129.6 191.8 L130.3 193.2 L130.9 192.6 L131.6 193.6 L132.2 194.6 L132.9 194.0 L133.5 193.2 L134.2 193.6 L134.8 192.1 L135.5 191.9 L136.1 192.1 L136.8 191.7 L137.4 188.8 L138.1 189.6 L138.7 190.8 L139.4 189.6 L140.0 189.8 L140.7 190.2 L141.3 188.3 L142.0 188.2 L142.6 187.2 L143.3 185.4 L143.9 186.6 L144.6 186.0 L145.2 186.8 L145.9 187.7 L146.5 187.2 L147.2 186.6 L147.8 186.8 L148.5 185.9 L149.1 185.5 L149.8 183.3 L150.4 183.1 L151.1 182.5 L151.7 184.5 L152.4 183.9 L153.0 183.3 L153.7 183.3 L154.3 183.6 L155.0 183.1 L155.6 183.2 L156.3 183.3 L156.9 184.8 L157.6 183.5 L158.2 182.3 L158.9 182.1 L159.5 183.0 L160.2 182.2 L160.8 182.0 L161.5 183.0 L162.1 184.2 L162.8 182.9 L163.4 183.5 L164.1 182.7 L164.7 183.9 L165.4 183.0 L166.0 182.5 L166.7 182.1 L167.3 183.1 L168.0 182.9 L168.6 182.4 L169.3 183.0 L169.9 181.0 L170.6 180.5 L171.2 182.6 L171.9 180.8 L172.5 181.1 L173.2 180.3 L173.8 180.1 L174.5 180.1 L175.1 179.5 L175.8 179.7 L176.4 179.4 L177.1 178.2 L177.7 179.3 L178.4 180.9 L179.0 180.9 L179.7 179.4 L180.3 179.4 L181.0 177.9 L181.6 177.5 L182.3 176.0 L182.9 176.0 L183.6 175.7 L184.2 174.8 L184.9 174.8 L185.5 175.0 L186.2 173.9 L186.8 171.8 L187.5 170.5 L188.1 168.9 L188.8 169.2 L189.4 171.4 L190.1 173.0 L190.7 174.2 L191.4 174.9 L192.0 175.6 L192.7 174.4 L193.3 172.9 L194.0 173.5 L194.6 171.6 L195.3 169.1 L195.9 170.5 L196.6 172.0 L197.2 173.5 L197.9 175.1 L198.5 174.6 L199.2 174.6 L199.8 175.3 L200.5 176.1 L201.1 176.8 L201.8 177.9 L202.4 179.2 L203.1 179.8 L203.7 182.6 L204.4 185.4 L205.0 185.2 L205.7 186.0 L206.3 187.7 L207.0 187.1 L207.6 186.4 L208.3 187.1 L208.9 186.7 L209.6 187.1 L210.2 186.6 L210.9 187.7 L211.5 188.2 L212.2 189.1 L212.8 190.0 L213.5 190.7 L214.1 190.6 L214.8 191.4 L215.4 190.9 L216.1 192.5 L216.7 193.9 L217.4 194.6 L218.0 195.8 L218.7 197.4 L219.3 197.4 L220.0 198.8 L220.6 199.2 L221.3 198.9 L221.9 199.7 L222.6 200.7 L223.2 201.4 L223.9 202.0 L224.5 202.2 L225.2 202.8 L225.8 203.4 L226.5 204.6 L227.1 206.0 L227.8 206.3 L228.4 207.0 L229.1 207.1 L229.7 205.9 L230.4 206.3 L231.0 206.1 L231.7 206.7 L232.3 206.9 L233.0 205.7 L233.6 205.9 L234.3 206.1 L234.9 205.7 L235.6 205.6 L236.2 205.7 L236.9 206.7 L237.5 206.3 L238.2 207.4 L238.8 207.4 L239.5 208.0 L240.1 208.6 L240.8 208.1 L241.4 209.2 L242.1 211.0 L242.7 211.2 L243.4 212.0 L244.0 212.7 L244.7 213.3 L245.3 213.3 L246.0 213.9 L246.6 214.4 L247.3 214.8 L247.9 213.7 L248.6 214.4 L249.2 214.0 L249.9 213.7 L250.5 213.9 L251.2 214.6 L251.8 214.9 L252.5 215.5 L253.1 216.1 L253.8 216.0 L254.4 216.4 L255.1 216.6 L255.7 216.7 L256.4 216.9 L257.0 216.9 L257.7 216.6 L258.3 216.6 L259.0 217.2 L259.6 216.9 L260.3 216.9 L260.9 216.6 L261.6 217.0 L262.2 216.6 L262.9 216.7 L263.5 216.4 L264.2 216.5 L264.8 216.6 L265.5 216.1 L266.1 216.2 L266.8 216.3 L267.4 216.0 L268.1 216.3 L268.7 216.7 L269.4 217.1 L270.0 218.1 L270.7 217.9 L271.3 218.3 L272.0 218.4 L272.6 218.0 L273.3 218.2 L273.9 218.0 L274.6 217.5 L275.2 217.2 L275.9 216.9 L276.5 216.9 L277.2 216.9 L277.8 216.8 L278.5 217.3 L279.1 217.7 L279.8 218.0 L280.4 217.5 L281.1 218.2 L281.7 217.9 L282.4 218.2 L283.0 217.9 L283.7 217.8 L284.3 217.9 L285.0 218.2 L285.6 217.9 L286.3 217.5 L286.9 218.1 L287.6 217.6 L288.2 217.8 L288.9 217.7 L289.5 217.6 L290.2 217.7 L290.8 217.8 L291.5 218.1 L292.1 218.4 L292.8 218.6 L293.4 218.5 L294.1 218.7 L294.7 218.9 L295.4 218.9 L296.0 218.8 L296.7 218.9 L297.3 218.9 L298.0 219.0 L298.6 219.1 L299.3 218.8 L299.9 218.8 L300.6 219.0 L301.2 219.0 L301.9 219.0 L302.5 218.4 L303.2 218.8 L303.8 218.3 L304.5 218.9 L305.1 219.1 L305.8 219.4 L306.4 219.7 L306.4 221.0 L305.8 220.8 L305.1 220.6 L304.5 220.5 L303.8 220.0 L303.2 220.4 L302.5 220.1 L301.9 220.6 L301.2 220.6 L300.6 220.6 L299.9 220.4 L299.3 220.4 L298.6 220.6 L298.0 220.5 L297.3 220.5 L296.7 220.5 L296.0 220.4 L295.4 220.5 L294.7 220.5 L294.1 220.3 L293.4 220.1 L292.8 220.3 L292.1 220.1 L291.5 219.9 L290.8 219.6 L290.2 219.6 L289.5 219.5 L288.9 219.6 L288.2 219.6 L287.6 219.5 L286.9 219.8 L286.3 219.4 L285.6 219.8 L285.0 219.9 L284.3 219.8 L283.7 219.6 L283.0 219.7 L282.4 220.0 L281.7 219.7 L281.1 219.9 L280.4 219.4 L279.8 219.8 L279.1 219.6 L278.5 219.2 L277.8 218.9 L277.2 218.9 L276.5 218.9 L275.9 219.0 L275.2 219.2 L274.6 219.4 L273.9 219.8 L273.3 220.0 L272.6 219.8 L272.0 220.1 L271.3 220.0 L270.7 219.7 L270.0 219.8 L269.4 219.1 L268.7 218.7 L268.1 218.4 L267.4 218.2 L266.8 218.5 L266.1 218.4 L265.5 218.3 L264.8 218.7 L264.2 218.6 L263.5 218.5 L262.9 218.7 L262.2 218.7 L261.6 219.0 L260.9 218.7 L260.3 218.9 L259.6 219.0 L259.0 219.2 L258.3 218.7 L257.7 218.7 L257.0 219.0 L256.4 219.0 L255.7 218.8 L255.1 218.7 L254.4 218.5 L253.8 218.2 L253.1 218.3 L252.5 217.8 L251.8 217.3 L251.2 217.1 L250.5 216.4 L249.9 216.3 L249.2 216.6 L248.6 216.9 L247.9 216.3 L247.3 217.2 L246.6 216.9 L246.0 216.4 L245.3 216.0 L244.7 216.0 L244.0 215.5 L243.4 214.9 L242.7 214.2 L242.1 214.0 L241.4 212.5 L240.8 211.5 L240.1 211.9 L239.5 211.4 L238.8 210.8 L238.2 210.9 L237.5 209.9 L236.9 210.2 L236.2 209.3 L235.6 209.3 L234.9 209.4 L234.3 209.8 L233.6 209.6 L233.0 209.4 L232.3 210.4 L231.7 210.3 L231.0 209.8 L230.4 210.0 L229.7 209.6 L229.1 210.7 L228.4 210.6 L227.8 209.9 L227.1 209.7 L226.5 208.4 L225.8 207.4 L225.2 206.8 L224.5 206.3 L223.9 206.2 L223.2 205.6 L222.6 205.0 L221.9 204.1 L221.3 203.4 L220.6 203.6 L220.0 203.3 L219.3 202.1 L218.7 202.0 L218.0 200.6 L217.4 199.5 L216.7 198.8 L216.1 197.6 L215.4 196.1 L214.8 196.6 L214.1 195.9 L213.5 195.9 L212.8 195.3 L212.2 194.5 L211.5 193.7 L210.9 193.2 L210.2 192.3 L209.6 192.7 L208.9 192.3 L208.3 192.7 L207.6 192.1 L207.0 192.7 L206.3 193.3 L205.7 191.7 L205.0 191.0 L204.4 191.1 L203.7 188.6 L203.1 186.0 L202.4 185.5 L201.8 184.3 L201.1 183.3 L200.5 182.6 L199.8 181.8 L199.2 181.2 L198.5 181.2 L197.9 181.7 L197.2 180.2 L196.6 178.8 L195.9 177.4 L195.3 176.2 L194.6 178.5 L194.0 180.2 L193.3 179.7 L192.7 181.1 L192.0 182.2 L191.4 181.6 L190.7 180.9 L190.1 179.9 L189.4 178.4 L188.8 176.4 L188.1 176.1 L187.5 177.7 L186.8 179.0 L186.2 181.0 L185.5 182.0 L184.9 181.9 L184.2 181.9 L183.6 182.7 L182.9 183.1 L182.3 183.1 L181.6 184.5 L181.0 185.0 L180.3 186.4 L179.7 186.4 L179.0 187.8 L178.4 187.8 L177.7 186.5 L177.1 185.5 L176.4 186.6 L175.8 186.9 L175.1 186.7 L174.5 187.3 L173.8 187.4 L173.2 187.6 L172.5 188.3 L171.9 188.2 L171.2 189.8 L170.6 187.9 L169.9 188.4 L169.3 190.2 L168.6 189.8 L168.0 190.3 L167.3 190.5 L166.7 189.6 L166.0 190.0 L165.4 190.5 L164.7 191.4 L164.1 190.3 L163.4 191.1 L162.8 190.5 L162.1 191.7 L161.5 190.7 L160.8 189.8 L160.2 190.0 L159.5 190.8 L158.9 190.1 L158.2 190.3 L157.6 191.5 L156.9 192.6 L156.3 191.4 L155.6 191.4 L155.0 191.3 L154.3 191.8 L153.7 191.7 L153.0 191.7 L152.4 192.3 L151.7 192.9 L151.1 191.2 L150.4 191.8 L149.8 192.0 L149.1 194.0 L148.5 194.5 L147.8 195.3 L147.2 195.1 L146.5 195.7 L145.9 196.2 L145.2 195.5 L144.6 194.9 L143.9 195.5 L143.3 194.5 L142.6 196.1 L142.0 197.0 L141.3 197.1 L140.7 198.8 L140.0 198.5 L139.4 198.5 L138.7 199.5 L138.1 198.6 L137.4 198.0 L136.8 200.5 L136.1 200.9 L135.5 200.7 L134.8 201.0 L134.2 202.2 L133.5 202.0 L132.9 202.8 L132.2 203.3 L131.6 202.5 L130.9 201.7 L130.3 202.3 L129.6 201.1 L129.0 200.3 L128.3 200.0 L127.7 200.6 L127.0 201.3 L126.4 200.9 L125.7 200.6 L125.1 201.0 L124.4 201.6 L123.8 202.0 L123.1 201.3 L122.5 201.4 L121.8 200.7 L121.2 202.0 L120.5 201.0 L119.9 201.2 L119.2 200.9 L118.6 200.9 L117.9 200.3 L117.3 200.0 L116.6 199.1 L116.0 199.9 L115.3 200.3 L114.7 200.5 L114.0 201.3 L113.4 201.9 L112.7 202.3 L112.1 201.8 L111.4 201.1 L110.8 200.7 L110.1 200.4 L109.5 199.9 L108.8 199.6 L108.2 198.4 L107.5 199.0 L106.9 199.5 L106.2 200.1 L105.6 199.7 L104.9 200.7 L104.3 201.8 L103.6 202.4 L103.0 203.6 L102.3 204.8 L101.7 206.2 L101.0 208.7 L100.4 210.6 L99.7 211.0 L99.1 211.0 L98.4 210.8 L97.8 211.1 L97.1 210.3 L96.5 210.3 L95.8 210.0 L95.2 210.3 L94.5 209.7 L93.9 210.2 L93.2 210.7 L92.6 210.8 L91.9 210.9 L91.3 211.4 L90.6 211.8 L90.0 211.4 L89.3 211.9 L88.7 211.8 L88.0 211.6 L87.4 211.7 L86.7 211.2 L86.1 211.4 L85.4 211.9 L84.8 212.9 L84.1 212.9 L83.5 212.6 L82.8 213.1 L82.2 213.3 L81.5 213.6 L80.9 213.4 L80.2 214.4 L79.6 214.2 L78.9 214.1 L78.3 213.7 L77.6 214.1 L77.0 213.2 L76.3 213.1 L75.7 213.3 L75.0 213.3 L74.4 213.9 L73.7 212.7 L73.1 212.9 L72.4 213.6 L71.8 212.9 L71.1 212.3 L70.5 211.7 L69.8 212.5 L69.2 213.5 L68.5 213.3 L67.9 214.3 L67.2 214.6 L66.6 215.0 L65.9 214.9 L65.3 215.2 L64.6 215.8 L64.0 215.9 L63.3 215.5 L62.7 215.9 L62.0 215.2 L61.4 215.4 L60.7 215.4 L60.1 215.7 L59.4 216.1 L58.8 215.7 L58.1 215.6 L57.5 216.2 L56.8 216.2 L56.2 216.0 L55.5 216.6 L54.9 216.7 L54.2 217.8 L53.6 217.7 L52.9 217.6 L52.3 217.9 L51.6 218.4 L51.0 218.4 L50.3 218.9 L49.7 218.9 L49.0 218.7 L48.4 218.9 L47.7 219.3 L47.1 219.2 L46.4 219.4 L45.8 219.3 L45.1 219.8 L44.5 220.2 L43.8 220.1 L43.2 220.8 L42.5 221.0Z" fill="#008000" fill-opacity="0.26"/>
<path d="M42.5 186.0 L43.2 182.4 L43.9 181.9 L44.6 181.7 L45.3 182.5 L46.0 183.4 L46.7 182.5 L47.4 181.2 L48.1 183.6 L48.8 184.2 L49.5 183.1 L50.2 184.1 L50.9 184.9 L51.6 183.1 L52.3 183.6 L53.0 184.1 L53.7 184.2 L54.4 184.8 L55.1 183.8 L55.8 184.2 L56.5 185.0 L57.2 185.5 L57.9 186.0 L58.6 187.9 L59.3 186.6 L60.0 187.8 L60.7 187.5 L61.4 189.7 L62.1 191.1 L62.8 191.7 L63.5 191.0 L64.2 191.7 L64.9 193.2 L65.6 192.8 L66.3 193.9 L67.0 193.1 L67.7 195.1 L68.4 195.1 L69.1 195.0 L69.8 194.5 L70.5 195.2 L71.2 195.8 L71.9 196.3 L72.6 196.5 L73.3 196.9 L74.0 197.7 L74.7 198.9 L75.4 197.2 L76.1 198.1 L76.8 198.5 L77.5 199.5 L78.2 199.3 L78.9 201.1 L79.6 201.2 L80.3 201.4 L81.0 201.5 L81.7 202.3 L82.4 202.6 L83.1 203.1 L83.8 202.9 L84.5 204.0 L85.2 203.3 L85.9 205.1 L86.6 203.3 L87.3 205.0 L88.0 205.0 L88.7 206.3 L89.4 205.5 L90.1 207.4 L90.8 206.1 L91.5 208.1 L92.2 207.6 L92.9 207.7 L93.6 208.1 L94.3 209.2 L95.0 208.8 L95.7 207.7 L96.4 209.7 L97.1 209.8 L97.8 209.6 L98.5 211.1 L99.2 210.9 L99.9 212.0 L100.6 212.5 L101.3 212.4 L102.0 213.1 L102.7 212.8 L103.4 213.4 L104.1 213.4 L104.8 213.8 L105.5 214.7 L106.2 214.3 L106.9 214.2 L107.6 214.7 L108.3 214.7 L109.0 215.2 L109.7 215.4 L110.4 215.6 L111.1 215.8 L111.8 215.8 L112.5 216.2 L113.2 216.6 L113.9 216.3 L114.6 216.6 L115.3 216.8 L116.0 217.2 L116.7 217.3 L117.4 216.9 L118.1 217.2 L118.8 217.0 L119.5 217.2 L120.2 217.5 L120.9 217.8 L121.6 217.9 L122.3 217.7 L123.0 217.6 L123.7 218.1 L124.4 218.0 L125.1 218.2 L125.8 218.3 L126.5 218.5 L127.2 218.5 L127.9 218.6 L128.6 218.4 L129.3 218.8 L130.0 218.5 L130.7 218.7 L131.4 219.1 L132.1 218.9 L132.8 218.7 L133.5 219.2 L134.2 219.2 L134.9 219.3 L135.6 219.1 L136.3 219.2 L137.0 219.2 L137.7 219.2 L138.4 219.6 L139.1 219.3 L139.8 219.4 L140.5 219.4 L141.2 219.8 L141.9 219.7 L142.6 219.5 L143.3 219.6 L144.0 219.7 L144.7 219.8 L145.4 219.5 L146.1 219.9 L146.8 219.7 L147.5 219.7 L148.2 219.8 L148.9 219.9 L149.6 220.1 L150.3 219.9 L151.0 220.0 L151.7 219.8 L152.4 220.0 L153.1 220.1 L153.8 219.8 L154.5 220.0 L155.2 220.1 L155.9 219.8 L156.6 220.0 L157.3 220.2 L158.0 219.9 L158.7 220.1 L159.4 220.1 L160.1 220.2 L160.8 220.0 L161.5 220.3 L162.2 220.2 L162.9 220.3 L163.6 220.3 L164.3 220.2 L165.0 220.3 L165.7 220.0 L166.4 220.1 L167.1 220.1 L167.8 220.2 L168.5 220.4 L169.2 220.1 L169.9 220.3 L170.6 220.2 L171.3 220.1 L172.0 220.5 L172.7 220.3 L173.4 220.5 L174.1 220.5 L174.8 220.2 L175.5 220.2 L176.2 220.6 L176.9 220.3 L177.6 220.3 L178.3 220.5 L179.0 220.4 L179.7 220.3 L180.4 220.4 L181.1 220.4 L181.8 220.4 L182.5 220.5 L183.2 220.4 L183.9 220.4 L184.6 220.5 L185.3 220.5 L186.0 220.6 L186.7 220.4 L187.4 220.5 L188.1 220.4 L188.8 220.6 L189.5 220.4 L190.2 220.5 L190.9 220.4 L191.6 220.5 L192.3 220.6 L193.0 220.4 L193.7 220.5 L194.4 220.4 L195.1 220.7 L195.8 220.5 L196.5 220.4 L197.2 220.5 L197.9 220.7 L198.6 220.7 L199.3 220.7 L200.0 220.5 L200.7 220.5 L201.4 220.7 L202.1 220.5 L202.8 220.5 L203.5 220.5 L204.2 220.5 L204.9 220.7 L205.6 220.6 L206.3 220.6 L207.0 220.6 L207.7 220.7 L208.4 220.7 L209.1 220.6 L209.8 220.6 L210.5 220.5 L211.2 220.7 L211.9 220.6 L212.6 220.5 L213.3 220.6 L214.0 220.6 L214.7 220.7 L215.4 220.7 L216.1 220.6 L216.8 220.6 L217.5 220.6 L218.2 220.6 L218.9 220.7 L219.6 220.7 L220.3 220.7 L221.0 220.5 L221.7 220.6 L222.4 220.8 L223.1 220.6 L223.8 220.8 L224.5 220.7 L225.2 220.7 L225.9 220.6 L226.6 220.7 L227.3 220.7 L228.0 220.7 L228.7 220.8 L229.4 220.7 L230.1 220.8 L230.8 220.8 L231.5 220.7 L232.2 220.8 L232.9 220.8 L233.6 220.7 L234.3 220.8 L235.0 220.8 L235.7 220.8 L236.4 220.7 L237.1 220.9 L237.8 220.9 L238.5 220.9 L239.2 220.9 L239.9 220.9 L240.6 220.9 L241.3 220.9 L242.0 221.1 L242.7 220.9 L243.4 221.0 L244.1 220.9 L244.8 220.9 L245.5 221.0 L246.2 221.0 L246.9 221.1 L247.6 221.1 L248.3 221.0 L249.0 221.1 L249.7 221.1 L250.4 221.1 L251.1 221.1 L251.8 221.1 L252.5 221.1 L253.2 221.1 L253.9 221.1 L254.6 221.1 L255.3 221.1 L256.0 221.1 L256.7 221.1 L257.4 221.1 L258.1 221.1 L258.8 221.1 L259.5 221.1 L260.2 221.1 L260.9 221.1 L261.6 221.1" stroke="#dc143c" stroke-width="1.6"/>
<path d="M42.5 216.2 L43.2 215.1 L43.8 214.7 L44.5 214.4 L45.1 213.8 L45.8 212.8 L46.4 210.8 L47.1 209.0 L47.7 209.4 L48.4 209.5 L49.0 209.7 L49.7 209.5 L50.3 209.1 L51.0 208.2 L51.6 207.5 L52.3 206.4 L52.9 206.4 L53.6 205.3 L54.2 204.5 L54.9 202.4 L55.5 202.6 L56.2 200.6 L56.8 198.8 L57.5 198.5 L58.1 195.9 L58.8 193.6 L59.4 192.7 L60.1 190.1 L60.7 190.8 L61.4 188.8 L62.0 187.7 L62.7 188.0 L63.3 185.4 L64.0 185.9 L64.6 183.4 L65.3 183.2 L65.9 181.5 L66.6 182.0 L67.2 180.9 L67.9 178.2 L68.5 177.2 L69.2 174.6 L69.8 173.7 L70.5 171.4 L71.1 169.9 L71.8 169.2 L72.4 170.5 L73.1 171.7 L73.7 169.2 L74.4 167.5 L75.0 167.8 L75.7 165.0 L76.3 164.2 L77.0 163.6 L77.6 162.0 L78.3 160.6 L78.9 158.7 L79.6 158.8 L80.2 155.7 L80.9 154.5 L81.5 151.2 L82.2 148.0 L82.8 148.0 L83.5 148.4 L84.1 145.4 L84.8 144.3 L85.4 144.6 L86.1 145.4 L86.7 146.4 L87.4 144.9 L88.0 146.8 L88.7 144.2 L89.3 143.3 L90.0 143.3 L90.6 142.1 L91.3 139.4 L91.9 138.8 L92.6 137.8 L93.2 135.3 L93.9 132.9 L94.5 135.1 L95.2 135.7 L95.8 135.9 L96.5 134.1 L97.1 134.2 L97.8 134.0 L98.4 134.6 L99.1 135.7 L99.7 135.2 L100.4 133.1 L101.0 131.7 L101.7 130.5 L102.3 128.6 L103.0 127.9 L103.6 126.5 L104.3 126.2 L104.9 127.7 L105.6 125.5 L106.2 123.9 L106.9 124.4 L107.5 124.9 L108.2 127.7 L108.8 129.0 L109.5 128.4 L110.1 131.9 L110.8 132.4 L111.4 135.9 L112.1 135.9 L112.7 138.5 L113.4 137.3 L114.0 138.4 L114.7 139.2 L115.3 139.3 L116.0 138.8 L116.6 137.7 L117.3 139.8 L117.9 140.2 L118.6 141.1 L119.2 142.5 L119.9 146.4 L120.5 146.0 L121.2 147.2 L121.8 150.2 L122.5 150.8 L123.1 151.6 L123.8 152.7 L124.4 152.8 L125.1 153.0 L125.7 153.8 L126.4 152.9 L127.0 151.8 L127.7 152.4 L128.3 152.5 L129.0 153.3 L129.6 151.7 L130.3 150.0 L130.9 150.8 L131.6 148.5 L132.2 148.5 L132.9 151.9 L133.5 152.2 L134.2 154.6 L134.8 155.0 L135.5 155.8 L136.1 156.7 L136.8 158.3 L137.4 159.2 L138.1 159.4 L138.7 160.2 L139.4 159.4 L140.0 160.4 L140.7 158.4 L141.3 158.8 L142.0 158.9 L142.6 159.5 L143.3 160.5 L143.9 158.3 L144.6 161.0 L145.2 162.4 L145.9 163.0 L146.5 162.1 L147.2 163.7 L147.8 165.2 L148.5 161.7 L149.1 161.8 L149.8 160.7 L150.4 157.5 L151.1 158.3 L151.7 157.2 L152.4 158.0 L153.0 158.6 L153.7 160.1 L154.3 160.5 L155.0 162.1 L155.6 161.1 L156.3 162.2 L156.9 163.4 L157.6 163.7 L158.2 162.8 L158.9 165.1 L159.5 164.5 L160.2 164.4 L160.8 165.7 L161.5 167.9 L162.1 169.0 L162.8 169.1 L163.4 170.8 L164.1 173.6 L164.7 173.8 L165.4 174.5 L166.0 172.2 L166.7 171.1 L167.3 173.2 L168.0 170.9 L168.6 168.3 L169.3 170.4 L169.9 166.3 L170.6 169.3 L171.2 171.2 L171.9 171.9 L172.5 171.8 L173.2 172.5 L173.8 169.0 L174.5 168.4 L175.1 168.5 L175.8 168.8 L176.4 167.9 L177.1 168.9 L177.7 168.6 L178.4 169.8 L179.0 170.1 L179.7 171.7 L180.3 172.8 L181.0 171.5 L181.6 171.3 L182.3 169.6 L182.9 168.7 L183.6 168.6 L184.2 168.2 L184.9 169.1 L185.5 168.6 L186.2 169.2 L186.8 166.8 L187.5 165.8 L188.1 164.6 L188.8 165.2 L189.4 166.3 L190.1 166.2 L190.7 167.7 L191.4 169.3 L192.0 169.3 L192.7 169.6 L193.3 169.6 L194.0 167.6 L194.6 167.2 L195.3 167.3 L195.9 167.6 L196.6 167.3 L197.2 168.2 L197.9 169.8 L198.5 170.4 L199.2 169.7 L199.8 172.8 L200.5 172.8 L201.1 174.4 L201.8 173.9 L202.4 176.7 L203.1 176.3 L203.7 177.6 L204.4 177.7 L205.0 179.5 L205.7 180.5 L206.3 181.0 L207.0 181.1 L207.6 180.3 L208.3 180.3 L208.9 179.2 L209.6 179.1 L210.2 180.1 L210.9 180.9 L211.5 181.9 L212.2 182.2 L212.8 181.4 L213.5 183.8 L214.1 185.2 L214.8 184.9 L215.4 184.7 L216.1 185.5 L216.7 186.2 L217.4 188.3 L218.0 189.5 L218.7 191.5 L219.3 190.7 L220.0 189.6 L220.6 190.1 L221.3 190.6 L221.9 190.9 L222.6 192.3 L223.2 192.6 L223.9 195.5 L224.5 195.7 L225.2 195.7 L225.8 196.5 L226.5 198.0 L227.1 199.1 L227.8 199.6 L228.4 200.8 L229.1 200.8 L229.7 201.3 L230.4 202.8 L231.0 202.9 L231.7 203.0 L232.3 203.9 L233.0 203.2 L233.6 203.8 L234.3 204.7 L234.9 205.4 L235.6 204.9 L236.2 206.0 L236.9 205.3 L237.5 206.0 L238.2 205.8 L238.8 205.3 L239.5 206.4 L240.1 207.1 L240.8 207.3 L241.4 208.0 L242.1 209.2 L242.7 208.8 L243.4 209.4 L244.0 210.4 L244.7 210.8 L245.3 211.8 L246.0 211.6 L246.6 211.4 L247.3 211.7 L247.9 212.6 L248.6 211.1 L249.2 211.4 L249.9 212.1 L250.5 212.8 L251.2 213.3 L251.8 213.7 L252.5 214.2 L253.1 215.4 L253.8 215.7 L254.4 215.6 L255.1 216.5 L255.7 216.5 L256.4 216.3 L257.0 216.3 L257.7 216.4 L258.3 216.2 L259.0 216.0 L259.6 216.4 L260.3 216.0 L260.9 216.4 L261.6 216.0 L262.2 216.3 L262.9 216.3 L263.5 216.8 L264.2 216.1 L264.8 216.0 L265.5 216.2 L266.1 216.1 L266.8 216.2 L267.4 216.4 L268.1 217.3 L268.7 218.2 L269.4 218.4 L270.0 219.3 L270.7 219.2 L271.3 219.0" stroke="#000080" stroke-width="2.15"/>
<path d="M42.5 217.8 L43.2 217.7 L43.8 217.3 L44.5 216.4 L45.1 216.7 L45.8 216.4 L46.4 215.5 L47.1 214.8 L47.7 213.9 L48.4 212.8 L49.0 212.6 L49.7 211.8 L50.3 211.4 L51.0 211.2 L51.6 210.9 L52.3 209.7 L52.9 208.2 L53.6 208.4 L54.2 206.7 L54.9 206.5 L55.5 206.4 L56.2 204.5 L56.8 202.9 L57.5 201.7 L58.1 202.1 L58.8 200.7 L59.4 200.1 L60.1 199.7 L60.7 198.5 L61.4 197.8 L62.0 196.8 L62.7 195.0 L63.3 195.1 L64.0 195.3 L64.6 194.6 L65.3 194.1 L65.9 193.0 L66.6 192.3 L67.2 190.8 L67.9 187.5 L68.5 186.7 L69.2 185.0 L69.8 185.8 L70.5 184.3 L71.1 183.7 L71.8 183.6 L72.4 182.6 L73.1 181.2 L73.7 181.4 L74.4 179.5 L75.0 179.5 L75.7 178.0 L76.3 175.4 L77.0 176.2 L77.6 173.1 L78.3 172.5 L78.9 170.1 L79.6 169.5 L80.2 168.2 L80.9 164.8 L81.5 162.6 L82.2 162.3 L82.8 161.8 L83.5 159.0 L84.1 157.0 L84.8 157.6 L85.4 154.4 L86.1 155.5 L86.7 154.6 L87.4 156.3 L88.0 155.3 L88.7 154.0 L89.3 153.8 L90.0 152.2 L90.6 152.8 L91.3 151.6 L91.9 151.4 L92.6 150.7 L93.2 151.9 L93.9 150.6 L94.5 150.9 L95.2 150.5 L95.8 149.0 L96.5 150.0 L97.1 148.9 L97.8 147.9 L98.4 146.6 L99.1 147.4 L99.7 149.5 L100.4 151.4 L101.0 149.3 L101.7 150.8 L102.3 150.3 L103.0 151.0 L103.6 150.4 L104.3 150.6 L104.9 147.0 L105.6 149.7 L106.2 150.2 L106.9 152.3 L107.5 152.9 L108.2 153.9 L108.8 156.2 L109.5 158.6 L110.1 155.6 L110.8 158.8 L111.4 160.1 L112.1 160.5 L112.7 161.0 L113.4 161.2 L114.0 162.5 L114.7 164.8 L115.3 165.8 L116.0 165.7 L116.6 165.6 L117.3 167.0 L117.9 168.0 L118.6 169.9 L119.2 170.8 L119.9 171.6 L120.5 173.5 L121.2 173.7 L121.8 176.1 L122.5 177.3 L123.1 176.5 L123.8 178.3 L124.4 178.0 L125.1 180.1 L125.7 180.5 L126.4 180.2 L127.0 181.5 L127.7 180.8 L128.3 180.4 L129.0 179.8 L129.6 179.5 L130.3 178.7 L130.9 178.2 L131.6 176.7 L132.2 177.1 L132.9 177.0 L133.5 176.0 L134.2 175.7 L134.8 178.3 L135.5 179.9 L136.1 180.3 L136.8 180.8 L137.4 183.2 L138.1 185.3 L138.7 184.1 L139.4 186.5 L140.0 186.3 L140.7 186.4 L141.3 187.9 L142.0 187.5 L142.6 189.4 L143.3 190.9 L143.9 190.9 L144.6 190.9 L145.2 191.0 L145.9 191.9 L146.5 191.9 L147.2 193.9 L147.8 192.5 L148.5 191.7 L149.1 191.2 L149.8 191.0 L150.4 191.1 L151.1 190.9 L151.7 193.3 L152.4 192.5 L153.0 193.1 L153.7 194.2 L154.3 195.1 L155.0 195.1 L155.6 194.1 L156.3 195.1 L156.9 195.7 L157.6 196.9 L158.2 197.7 L158.9 199.0 L159.5 199.9 L160.2 201.6 L160.8 202.2 L161.5 204.6 L162.1 204.6 L162.8 204.7 L163.4 205.3 L164.1 205.6 L164.7 206.1 L165.4 206.6 L166.0 205.2 L166.7 204.6 L167.3 204.9 L168.0 203.6 L168.6 203.8 L169.3 204.9 L169.9 205.4 L170.6 206.5 L171.2 206.4 L171.9 207.5 L172.5 207.5 L173.2 207.7 L173.8 208.4 L174.5 208.4 L175.1 207.1 L175.8 207.1 L176.4 207.7 L177.1 208.0 L177.7 208.0 L178.4 208.9 L179.0 209.4 L179.7 211.6 L180.3 210.9 L181.0 210.9 L181.6 210.5 L182.3 210.4 L182.9 210.3 L183.6 210.3 L184.2 211.7 L184.9 212.4 L185.5 213.8 L186.2 213.6 L186.8 213.7 L187.5 214.0 L188.1 214.2 L188.8 213.9 L189.4 213.6 L190.1 213.8 L190.7 213.7 L191.4 214.3 L192.0 214.0 L192.7 214.0 L193.3 213.7 L194.0 212.2 L194.6 212.1 L195.3 212.0 L195.9 211.9 L196.6 212.3 L197.2 213.6 L197.9 214.0 L198.5 215.0 L199.2 214.7 L199.8 214.3 L200.5 214.4 L201.1 214.0 L201.8 214.2 L202.4 213.2 L203.1 212.7 L203.7 211.7 L204.4 211.1 L205.0 210.7 L205.7 211.8 L206.3 211.5 L207.0 211.9 L207.6 211.5 L208.3 210.8 L208.9 211.3 L209.6 211.0 L210.2 211.4 L210.9 210.8 L211.5 211.1 L212.2 210.6 L212.8 211.2 L213.5 210.7 L214.1 210.8 L214.8 211.3 L215.4 211.5 L216.1 211.7 L216.7 212.2 L217.4 212.2 L218.0 211.2 L218.7 211.4 L219.3 211.2 L220.0 210.5 L220.6 210.7 L221.3 210.0 L221.9 211.2 L222.6 210.9 L223.2 211.4 L223.9 212.3 L224.5 212.5 L225.2 213.3 L225.8 213.1 L226.5 213.4 L227.1 213.2 L227.8 213.5 L228.4 214.4 L229.1 214.6 L229.7 215.4 L230.4 215.5 L231.0 216.0 L231.7 216.5 L232.3 216.9 L233.0 217.0 L233.6 217.0 L234.3 217.4 L234.9 217.4 L235.6 217.7 L236.2 218.1 L236.9 217.7 L237.5 217.9 L238.2 218.2 L238.8 217.9 L239.5 218.2 L240.1 218.0 L240.8 218.6 L241.4 218.0 L242.1 218.4 L242.7 218.6 L243.4 219.2 L244.0 219.1 L244.7 219.1 L245.3 219.0 L246.0 219.4 L246.6 219.5 L247.3 219.5 L247.9 219.5 L248.6 219.7 L249.2 220.2 L249.9 220.5 L250.5 220.5 L251.2 220.6 L251.8 220.5 L252.5 220.7 L253.1 220.7 L253.8 220.7 L254.4 220.8 L255.1 220.7 L255.7 220.7 L256.4 220.8 L257.0 220.8 L257.7 220.8 L258.3 220.6 L259.0 220.8 L259.6 220.9 L260.3 220.9 L260.9 220.8 L261.6 220.8 L262.2 220.8 L262.9 220.9 L263.5 220.8 L264.2 220.9 L264.8 220.9 L265.5 220.9 L266.1 220.9 L266.8 221.0 L267.4 220.9 L268.1 221.0" stroke="#0000ff" stroke-width="1.8"/>
<path d="M42.5 219.6 L43.2 219.2 L43.8 218.2 L44.5 218.2 L45.1 217.7 L45.8 217.1 L46.4 217.2 L47.1 216.9 L47.7 217.0 L48.4 216.5 L49.0 216.2 L49.7 216.5 L50.3 216.5 L51.0 215.9 L51.6 215.8 L52.3 215.3 L52.9 214.9 L53.6 215.0 L54.2 215.1 L54.9 213.7 L55.5 213.7 L56.2 212.9 L56.8 213.2 L57.5 213.1 L58.1 212.4 L58.8 212.6 L59.4 213.1 L60.1 212.6 L60.7 212.2 L61.4 212.2 L62.0 212.0 L62.7 212.8 L63.3 212.3 L64.0 212.8 L64.6 212.6 L65.3 211.9 L65.9 211.6 L66.6 211.7 L67.2 211.2 L67.9 210.9 L68.5 209.6 L69.2 209.9 L69.8 208.8 L70.5 207.8 L71.1 208.6 L71.8 209.2 L72.4 210.0 L73.1 209.2 L73.7 209.0 L74.4 210.3 L75.0 209.7 L75.7 209.7 L76.3 209.5 L77.0 209.6 L77.6 210.5 L78.3 210.1 L78.9 210.5 L79.6 210.7 L80.2 210.9 L80.9 209.8 L81.5 210.0 L82.2 209.7 L82.8 209.4 L83.5 208.8 L84.1 209.2 L84.8 209.2 L85.4 208.1 L86.1 207.4 L86.7 207.2 L87.4 207.8 L88.0 207.7 L88.7 207.9 L89.3 208.1 L90.0 207.4 L90.6 207.9 L91.3 207.4 L91.9 206.9 L92.6 206.7 L93.2 206.6 L93.9 206.0 L94.5 205.5 L95.2 206.2 L95.8 205.8 L96.5 206.1 L97.1 206.1 L97.8 207.1 L98.4 206.7 L99.1 206.9 L99.7 207.0 L100.4 206.4 L101.0 204.3 L101.7 201.5 L102.3 199.9 L103.0 198.6 L103.6 197.2 L104.3 196.6 L104.9 195.3 L105.6 194.2 L106.2 194.6 L106.9 193.9 L107.5 193.4 L108.2 192.8 L108.8 194.1 L109.5 194.4 L110.1 194.9 L110.8 195.3 L111.4 195.8 L112.1 196.5 L112.7 197.1 L113.4 196.6 L114.0 195.9 L114.7 195.1 L115.3 194.9 L116.0 194.4 L116.6 193.6 L117.3 194.7 L117.9 195.0 L118.6 195.6 L119.2 195.8 L119.9 196.0 L120.5 195.8 L121.2 197.1 L121.8 195.7 L122.5 196.4 L123.1 196.3 L123.8 197.1 L124.4 196.8 L125.1 196.1 L125.7 195.7 L126.4 196.1 L127.0 196.5 L127.7 195.8 L128.3 195.2 L129.0 195.6 L129.6 196.5 L130.3 197.8 L130.9 197.1 L131.6 198.0 L132.2 199.0 L132.9 198.4 L133.5 197.6 L134.2 197.9 L134.8 196.6 L135.5 196.3 L136.1 196.5 L136.8 196.1 L137.4 193.4 L138.1 194.1 L138.7 195.1 L139.4 194.0 L140.0 194.2 L140.7 194.5 L141.3 192.7 L142.0 192.6 L142.6 191.7 L143.3 190.0 L143.9 191.0 L144.6 190.5 L145.2 191.1 L145.9 192.0 L146.5 191.4 L147.2 190.8 L147.8 191.0 L148.5 190.2 L149.1 189.7 L149.8 187.6 L150.4 187.5 L151.1 186.9 L151.7 188.7 L152.4 188.1 L153.0 187.5 L153.7 187.5 L154.3 187.7 L155.0 187.2 L155.6 187.3 L156.3 187.3 L156.9 188.7 L157.6 187.5 L158.2 186.3 L158.9 186.1 L159.5 186.9 L160.2 186.1 L160.8 185.9 L161.5 186.8 L162.1 188.0 L162.8 186.7 L163.4 187.3 L164.1 186.5 L164.7 187.6 L165.4 186.8 L166.0 186.2 L166.7 185.9 L167.3 186.8 L168.0 186.6 L168.6 186.1 L169.3 186.6 L169.9 184.7 L170.6 184.2 L171.2 186.2 L171.9 184.5 L172.5 184.7 L173.2 184.0 L173.8 183.7 L174.5 183.7 L175.1 183.1 L175.8 183.3 L176.4 183.0 L177.1 181.8 L177.7 182.9 L178.4 184.4 L179.0 184.4 L179.7 182.9 L180.3 182.9 L181.0 181.4 L181.6 181.0 L182.3 179.5 L182.9 179.5 L183.6 179.2 L184.2 178.3 L184.9 178.4 L185.5 178.5 L186.2 177.5 L186.8 175.4 L187.5 174.1 L188.1 172.5 L188.8 172.8 L189.4 174.9 L190.1 176.4 L190.7 177.6 L191.4 178.3 L192.0 178.9 L192.7 177.8 L193.3 176.3 L194.0 176.8 L194.6 175.1 L195.3 172.7 L195.9 174.0 L196.6 175.4 L197.2 176.9 L197.9 178.4 L198.5 177.9 L199.2 177.9 L199.8 178.6 L200.5 179.3 L201.1 180.1 L201.8 181.1 L202.4 182.4 L203.1 182.9 L203.7 185.6 L204.4 188.2 L205.0 188.1 L205.7 188.9 L206.3 190.5 L207.0 189.9 L207.6 189.2 L208.3 189.9 L208.9 189.5 L209.6 189.9 L210.2 189.4 L210.9 190.4 L211.5 190.9 L212.2 191.8 L212.8 192.7 L213.5 193.3 L214.1 193.2 L214.8 194.0 L215.4 193.5 L216.1 195.0 L216.7 196.3 L217.4 197.1 L218.0 198.2 L218.7 199.7 L219.3 199.8 L220.0 201.1 L220.6 201.4 L221.3 201.1 L221.9 201.9 L222.6 202.9 L223.2 203.5 L223.9 204.1 L224.5 204.2 L225.2 204.8 L225.8 205.4 L226.5 206.5 L227.1 207.9 L227.8 208.1 L228.4 208.8 L229.1 208.9 L229.7 207.7 L230.4 208.2 L231.0 207.9 L231.7 208.5 L232.3 208.6 L233.0 207.6 L233.6 207.7 L234.3 207.9 L234.9 207.5 L235.6 207.5 L236.2 207.5 L236.9 208.4 L237.5 208.1 L238.2 209.2 L238.8 209.1 L239.5 209.7 L240.1 210.3 L240.8 209.8 L241.4 210.8 L242.1 212.5 L242.7 212.7 L243.4 213.4 L244.0 214.1 L244.7 214.6 L245.3 214.7 L246.0 215.2 L246.6 215.6 L247.3 216.0 L247.9 215.0 L248.6 215.6 L249.2 215.3 L249.9 215.0 L250.5 215.1 L251.2 215.9 L251.8 216.1 L252.5 216.7 L253.1 217.2 L253.8 217.1 L254.4 217.5 L255.1 217.7 L255.7 217.8 L256.4 217.9 L257.0 217.9 L257.7 217.7 L258.3 217.6 L259.0 218.2 L259.6 217.9 L260.3 217.9 L260.9 217.6 L261.6 218.0 L262.2 217.7 L262.9 217.7 L263.5 217.5 L264.2 217.6 L264.8 217.6 L265.5 217.2 L266.1 217.3 L266.8 217.4 L267.4 217.1 L268.1 217.3 L268.7 217.7 L269.4 218.1 L270.0 219.0 L270.7 218.8 L271.3 219.1 L272.0 219.2 L272.6 218.9 L273.3 219.1 L273.9 218.9 L274.6 218.4 L275.2 218.2 L275.9 217.9 L276.5 217.9 L277.2 217.9 L277.8 217.8 L278.5 218.2 L279.1 218.6 L279.8 218.9 L280.4 218.4 L281.1 219.1 L281.7 218.8 L282.4 219.1 L283.0 218.8 L283.7 218.7 L284.3 218.9 L285.0 219.0 L285.6 218.8 L286.3 218.5 L286.9 219.0 L287.6 218.6 L288.2 218.7 L288.9 218.7 L289.5 218.5 L290.2 218.6 L290.8 218.7 L291.5 219.0 L292.1 219.3 L292.8 219.4 L293.4 219.3 L294.1 219.5 L294.7 219.7 L295.4 219.7 L296.0 219.6 L296.7 219.7 L297.3 219.7 L298.0 219.8 L298.6 219.8 L299.3 219.6 L299.9 219.6 L300.6 219.8 L301.2 219.8 L301.9 219.8 L302.5 219.3 L303.2 219.6 L303.8 219.2 L304.5 219.7 L305.1 219.8 L305.8 220.1 L306.4 220.3" stroke="#008000" stroke-width="1.8"/>
<path d="M41.9 135.1 L46.9 136.2 L51.9 137.3 L56.9 138.3 L61.9 139.4 L66.8 140.4 L71.8 141.4 L76.8 142.5 L81.8 143.5 L86.8 144.5 L91.8 145.5 L96.8 146.5 L101.8 147.5 L106.8 148.5 L111.8 149.5 L116.8 150.5 L121.8 151.4 L126.8 152.4 L131.8 153.3 L136.8 154.3 L141.8 155.2 L146.8 156.1 L151.8 157.0 L156.8 157.9 L161.8 158.8 L166.8 159.7 L171.8 160.6 L176.8 161.5 L181.8 162.4 L186.8 163.2 L191.8 164.1 L196.8 164.9 L201.8 165.8 L206.8 166.6 L211.8 167.4 L216.8 168.2 L221.8 169.0 L226.8 169.8 L231.8 170.6 L236.8 171.4 L241.8 172.2 L246.8 172.9 L251.8 173.7 L256.9 174.4 L261.9 175.2 L266.9 175.9 L271.9 176.6 L276.9 177.3 L281.9 178.0 L286.9 178.7 L291.9 179.4 L296.9 180.1 L301.9 180.8 L306.9 181.4 L311.9 182.1 L316.9 182.7 L321.9 183.4 L326.9 184.0 L331.9 184.6 L336.9 185.3 L341.9 185.9" stroke="#000" stroke-width="1.6" stroke-dasharray="5.96 2.59"/>
</g>
<line x1="41.85" x2="41.85" y1="221.10" y2="226.00" stroke="#000" stroke-width="1"/>
<text x="41.85" y="238" text-anchor="middle" class="t">0.0</text>
<line x1="101.85" x2="101.85" y1="221.10" y2="226.00" stroke="#000" stroke-width="1"/>
<text x="101.85" y="238" text-anchor="middle" class="t">0.2</text>
<line x1="161.85" x2="161.85" y1="221.10" y2="226.00" stroke="#000" stroke-width="1"/>
<text x="161.85" y="238" text-anchor="middle" class="t">0.4</text>
<line x1="221.85" x2="221.85" y1="221.10" y2="226.00" stroke="#000" stroke-width="1"/>
<text x="221.85" y="238" text-anchor="middle" class="t">0.6</text>
<line x1="281.85" x2="281.85" y1="221.10" y2="226.00" stroke="#000" stroke-width="1"/>
<text x="281.85" y="238" text-anchor="middle" class="t">0.8</text>
<line x1="341.85" x2="341.85" y1="221.10" y2="226.00" stroke="#000" stroke-width="1"/>
<text x="341.85" y="238" text-anchor="middle" class="t">1.0</text>
<line x1="36.95" x2="41.85" y1="221.10" y2="221.10" stroke="#000" stroke-width="1"/>
<text x="34.0" y="225.55" text-anchor="end" class="t">0.0</text>
<line x1="36.95" x2="41.85" y1="190.37" y2="190.37" stroke="#000" stroke-width="1"/>
<text x="34.0" y="194.82" text-anchor="end" class="t">0.2</text>
<line x1="36.95" x2="41.85" y1="159.64" y2="159.64" stroke="#000" stroke-width="1"/>
<text x="34.0" y="164.09" text-anchor="end" class="t">0.4</text>
<line x1="36.95" x2="41.85" y1="128.91" y2="128.91" stroke="#000" stroke-width="1"/>
<text x="34.0" y="133.36" text-anchor="end" class="t">0.6</text>
<line x1="36.95" x2="41.85" y1="98.18" y2="98.18" stroke="#000" stroke-width="1"/>
<text x="34.0" y="102.63" text-anchor="end" class="t">0.8</text>
<line x1="36.95" x2="41.85" y1="67.45" y2="67.45" stroke="#000" stroke-width="1"/>
<text x="34.0" y="71.90" text-anchor="end" class="t">1.0</text>
<line x1="36.95" x2="41.85" y1="36.72" y2="36.72" stroke="#000" stroke-width="1"/>
<text x="34.0" y="41.17" text-anchor="end" class="t">1.2</text>
<line x1="36.95" x2="41.85" y1="5.99" y2="5.99" stroke="#000" stroke-width="1"/>
<text x="34.0" y="10.44" text-anchor="end" class="t">1.4</text>
<rect x="41.85" y="0.70" width="300.00" height="220.40" fill="none" stroke="#000" stroke-width="1.6"/>
<text x="191.7" y="252.7" text-anchor="middle" class="l">Redshift (z)</text>
<text transform="translate(10.3,111.4) rotate(-90)" text-anchor="middle" class="l">SNe per unit Redshift</text>
<rect x="111.4" y="5.6" width="225.8" height="74.9" rx="2" fill="#fff" fill-opacity="0.8" stroke="#ccc" stroke-width="0.8"/>
<line x1="115" x2="135" y1="13.75" y2="13.75" stroke="#000" stroke-width="1.6" stroke-dasharray="5.96 2.59"/>
<text x="142.7" y="16.85" class="g">Total Signal (AUC = 0.551)</text>
<line x1="115" x2="135" y1="28.10" y2="28.10" stroke="#dc143c" stroke-width="1.6"/>
<text x="142.7" y="31.20" class="g">Detected Signal (AUC = 0.038)</text>
<line x1="115" x2="135" y1="42.45" y2="42.45" stroke="#000080" stroke-width="1.6"/>
<text x="142.7" y="45.55" class="g">Remaining Background (AUC = 0.229)</text>
<line x1="115" x2="135" y1="56.80" y2="56.80" stroke="#0000ff" stroke-width="1.6"/>
<text x="142.7" y="59.90" class="g">CC Background (AUC = 0.123)</text>
<line x1="115" x2="135" y1="71.15" y2="71.15" stroke="#008000" stroke-width="1.6"/>
<text x="142.7" y="74.25" class="g">Ia Background (AUC = 0.107)</text>
</svg>
</body></html>
